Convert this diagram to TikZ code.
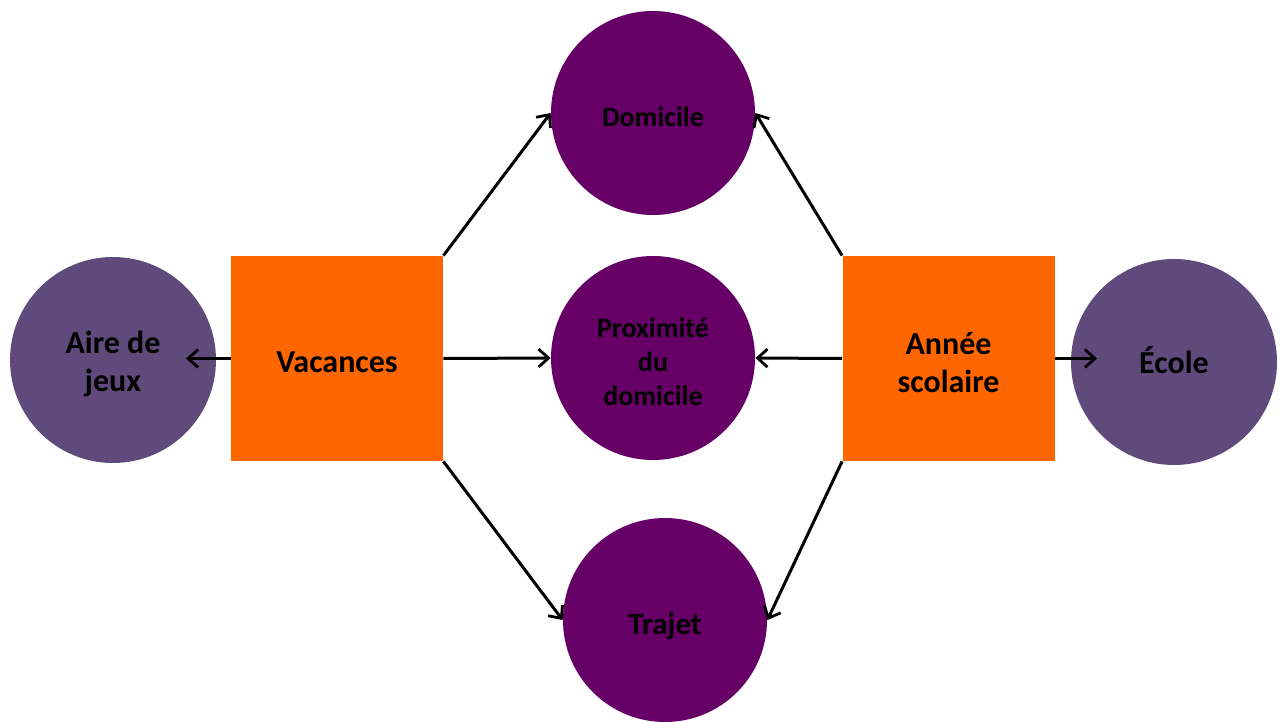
\documentclass[tikz,border=0pt]{standalone}
\usepackage{fontspec}
\setmainfont{Carlito}
\usetikzlibrary{arrows.meta}
\definecolor{darkpurp}{HTML}{660066}
\definecolor{lightpurp}{HTML}{604A7B}
\definecolor{orng}{HTML}{FF6600}
\begin{document}
\begin{tikzpicture}[x=0.5pt,y=-0.5pt,
  place/.style={circle,fill=darkpurp,minimum size=102pt,inner sep=0pt},
  outer/.style={circle,fill=lightpurp,minimum size=103pt,inner sep=0pt},
  period/.style={rectangle,fill=orng,minimum width=106pt,minimum height=102.5pt,inner sep=0pt},
  small/.style={align=center,yshift=-2pt,inner sep=0pt,font=\bfseries\fontsize{14}{17}\selectfont},
  big/.style={align=center,yshift=-2pt,inner sep=0pt,font=\bfseries\fontsize{16}{19}\selectfont},
  link/.style={line width=1.5pt,-{Straight Barb[length=5pt,width=9pt,line width=1.4pt]}}]
\useasboundingbox (0,0) rectangle (1280,722);
\node[place,label={[small]center:Domicile}] (dom) at (653,113) {};
\node[place,label={[small]center:{Proximité\\du\\domicile}}] (prox) at (653,358) {};
\node[place,label={[big,yshift=-1pt,font=\bfseries\fontsize{15.5}{19}\selectfont]center:Trajet}] (traj) at (665,620) {};
\node[outer,label={[big]center:{Aire de\\jeux}}] (aire) at (113,360) {};
\node[outer,label={[big,yshift=3pt]center:École}] (ecole) at (1174,362) {};
\node[period,label={[big]center:Vacances}] (vac) at (337,358.5) {};
\node[period,label={[big]center:{Année\\scolaire}}] (ann) at (948.5,358.5) {};
\coordinate (aireT) at (186,358.5);
\coordinate (ecoleT) at (1097,358.5);
\draw[link] (vac.north east) -- (dom.west);
\draw[link] (vac.east) -- (prox.west);
\draw[link] (vac.south east) -- (traj.west);
\draw[link] (vac.west) -- (aireT);
\draw[link] (ann.north west) -- (dom.east);
\draw[link] (ann.west) -- (prox.east);
\draw[link] (ann.south west) -- (traj.east);
\draw[link] (ann.east) -- (ecoleT);
\end{tikzpicture}
\end{document}
